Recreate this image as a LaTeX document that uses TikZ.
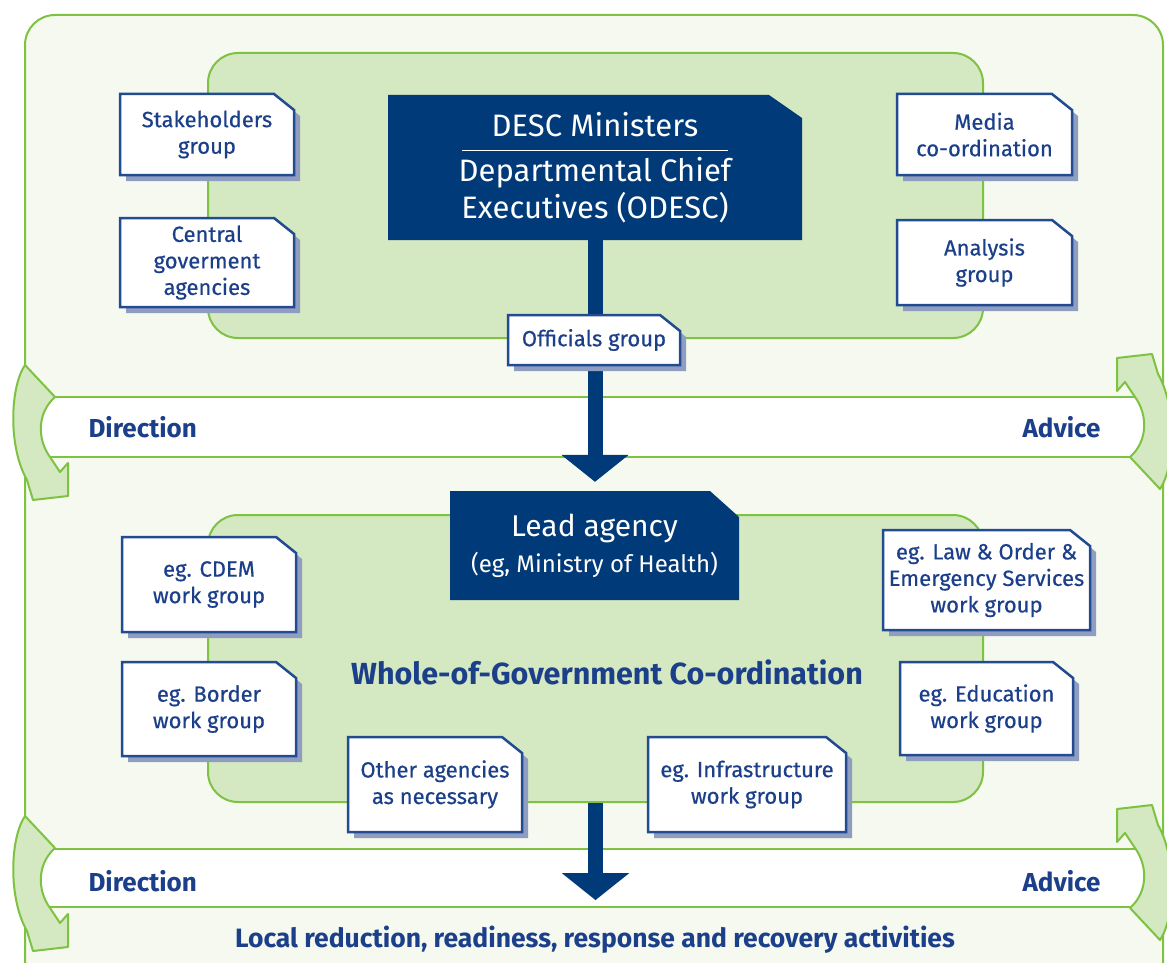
\documentclass[tikz,border=0pt]{standalone}
\usepackage{fontspec}
\setmainfont{Fira Sans}
\newfontfamily\cardfont{Fira Sans}[FakeBold=0.5]
\usetikzlibrary{arrows.meta}

\definecolor{framefill}{HTML}{F5F9F0}
\definecolor{leafgreen}{HTML}{7DC341}
\definecolor{panelgreen}{HTML}{D4E8C1}
\definecolor{navy}{HTML}{003A78}
\definecolor{inkblue}{HTML}{1C3F8A}
\definecolor{cardblue}{HTML}{234B91}
\definecolor{cardshadow}{HTML}{8E9DC0}

\tikzset{
	frameline/.style={draw=leafgreen, line width=2pt},
	panel/.style={frameline, fill=panelgreen, rounded corners=30pt},
	band/.style={frameline, fill=white, minimum width=1115pt},
	bandtext/.style={text=inkblue, font=\fontsize{26}{30}\selectfont\bfseries},
	cardline/.style={draw=cardblue, line width=2.5pt, fill=white},
	cardtext/.style={text=inkblue, align=center, font=\cardfont\fontsize{22}{26.5}\selectfont},
	navytext/.style={text=white, align=center},
	flowarrow/.style={draw=navy, line width=15pt, -{Triangle[length=27pt, width=66pt]}},
	bendarrow/.pic={
		\draw[frameline, fill=panelgreen, line join=round]
			(-15,-62) .. controls (-30,-40) and (-32,20) .. (-13,53)
			-- (-7,73) -- (28,69) -- (28,36) -- (20,45) -- (10,30)
			.. controls (-3,12) and (-3,-14) .. (15,-30) -- cycle;
	}
}

\begin{document}
\begin{tikzpicture}[x=1pt, y=-1pt]
	\useasboundingbox (0,0) rectangle (1167,963);
	\clip (0,0) rectangle (1167,963);
	\fill[white] (0,0) rectangle (1167,963);

	% outer frame
	\draw[frameline, fill=framefill, rounded corners=30pt] (25,15) rectangle (1163,1010);

	% panels
	\node[panel, minimum width=775pt, minimum height=285pt] (toppanel) at (595.5,195.5) {};
	\node[panel, minimum width=775pt, minimum height=287pt] (lowpanel) at (595.5,658.5) {};
	\node[text=inkblue, font=\fontsize{30.5}{35}\selectfont\bfseries] (wog) at (607,672) {Whole-of-Government Co-ordination};

	% bands and the bent arrows round their ends
	\node[band, minimum height=60pt] (band1) at (592.5,427) {};
	\node[band, minimum height=58pt] (band2) at (592.5,878) {};
	\foreach \y in {427, 878} {
		\pic at (40,\y) {bendarrow};
		\pic[rotate=180] at (1145,\y) {bendarrow};
	}
	\node[bandtext, anchor=west] (direction1) at (85,427) {Direction};
	\node[bandtext, anchor=east] (advice1) at (1104,427) {Advice};
	\node[bandtext, anchor=west] (direction2) at (85,881) {Direction};
	\node[bandtext, anchor=east] (advice2) at (1104,881) {Advice};
	\node[text=inkblue, font=\fontsize{26.5}{30}\selectfont\bfseries, inner sep=0pt] (local) at (595,940) {Local reduction, readiness, response and recovery activities};

	% dark boxes
	\begin{scope}[shift={(595,167.5)}]
		\fill[navy] (-207,72.5) |- (174,-72.5) -- (207,-49.5) |- cycle;
	\end{scope}
	\node[navytext, font=\fontsize{31}{37}\selectfont, minimum width=414pt, minimum height=145pt] (desc) at (595,167.5)
		{DESC Ministers\\[-22pt]\rule{266pt}{1.2pt}\\[-7pt]Departmental Chief\\Executives (ODESC)};
	\begin{scope}[shift={(594.5,545.5)}]
		\fill[navy] (-144.5,54.5) |- (115.5,-54.5) -- (144.5,-28.5) |- cycle;
	\end{scope}
	\node[navytext, font=\fontsize{30}{36}\selectfont, minimum width=289pt, minimum height=109pt] (lead) at (594.5,545.5)
		{Lead agency\\{\fontsize{24}{36}\selectfont (eg, Ministry of Health)}};

	% flow
	\draw[flowarrow, shorten >=9pt] (desc.south) -- (desc.south |- lead.north);
	\draw[flowarrow, shorten >=26pt] (lowpanel.south) -- (lowpanel.south |- local.north);

	% groups
	\foreach \nm/\cx/\cy/\w/\h/\txt in {
		stake/207/134.5/174/81/{Stakeholders\\group},
		central/207/262.5/174/89/{Central\\goverment\\agencies},
		media/984.5/134.5/175/81/{Media\\co-ordination},
		analysis/984.5/262.5/175/85/{Analysis\\group},
		officials/594/340/172/50/{Officials group},
		cdem/209/584.5/174/95/{eg. CDEM\\work group},
		border/209/709/174/94/{eg. Border\\work group},
		laworder/986.5/580/207/100/{eg. Law \& Order \&\\Emergency Services\\work group},
		education/986.5/708.5/173/93/{eg. Education\\work group},
		others/435/784.5/174/95/{Other agencies\\as necessary},
		infra/747/784.5/198/95/{eg. Infrastructure\\work group}} {
		\begin{scope}[shift={(\cx,\cy)}]
			\fill[cardshadow] ({6-\w/2},{6+\h/2}) |- ({\w/2-14},{6-\h/2}) -- ({\w/2+6},{22-\h/2}) |- cycle;
			\draw[cardline] ({-\w/2},{\h/2}) |- ({\w/2-20},{-\h/2}) -- ({\w/2},{16-\h/2}) |- cycle;
		\end{scope}
		\node[cardtext, minimum width=\w pt, minimum height=\h pt] (\nm) at (\cx,\cy) {\txt};
	}
\end{tikzpicture}
\end{document}
